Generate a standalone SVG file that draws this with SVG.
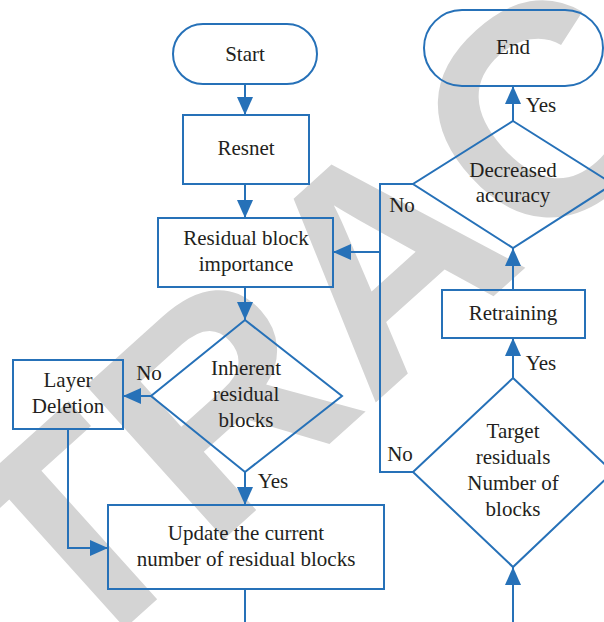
<svg xmlns="http://www.w3.org/2000/svg" width="604" height="622" viewBox="0 0 604 622">
<defs>
<style>
.shape{fill:none;stroke:#2671b8;stroke-width:2}
.conn{fill:none;stroke:#2671b8;stroke-width:2}
.t{font-family:"Liberation Serif","Times New Roman",serif;font-size:21px;fill:#231f20;text-anchor:middle}
.wm{font-family:"Liberation Sans",Arial,sans-serif;font-size:300px;font-weight:bold;fill:#d4d4d4}
</style>
<marker id="ah" markerUnits="userSpaceOnUse" markerWidth="18" markerHeight="16" refX="18" refY="8" orient="auto">
<path d="M0,0 L18,8 L0,16 z" fill="#2671b8"/>
</marker>
</defs>
<rect x="0" y="0" width="604" height="622" fill="#ffffff"/>
<g id="watermark">
<text class="wm" x="73" y="675" transform="rotate(-42 73 675)">TRAC</text>
</g>
<g id="connectors">
<path class="conn" d="M245,84 V115" marker-end="url(#ah)"/>
<path class="conn" d="M245,184 V218" marker-end="url(#ah)"/>
<path class="conn" d="M245,287 V320" marker-end="url(#ah)"/>
<path class="conn" d="M151,396 H123" marker-end="url(#ah)"/>
<path class="conn" d="M245,472 V505" marker-end="url(#ah)"/>
<path class="conn" d="M68,429 V548 H108" marker-end="url(#ah)"/>
<path class="conn" d="M245,589 V622"/>
<path class="conn" d="M513,622 V567" marker-end="url(#ah)"/>
<path class="conn" d="M513,378 V338" marker-end="url(#ah)"/>
<path class="conn" d="M513,290 V248" marker-end="url(#ah)"/>
<path class="conn" d="M513,121 V86" marker-end="url(#ah)"/>
<path class="conn" d="M413,184 H380 V472 H413"/>
<path class="conn" d="M380,252 H333" marker-end="url(#ah)"/>
<text class="t" x="149" y="380">No</text>
<text class="t" x="273" y="488">Yes</text>
<text class="t" x="402" y="212">No</text>
<text class="t" x="400" y="461">No</text>
<text class="t" x="541" y="370">Yes</text>
<text class="t" x="541" y="112">Yes</text>
</g>
<g id="start">
<rect class="shape" x="173" y="24" width="144" height="60" rx="30"/>
<text class="t" x="245" y="61">Start</text>
</g>
<g id="resnet">
<rect class="shape" x="183" y="115" width="126" height="69"/>
<text class="t" x="246" y="155">Resnet</text>
</g>
<g id="importance">
<rect class="shape" x="158" y="218" width="175" height="69"/>
<text class="t" x="246" y="245">Residual block</text>
<text class="t" x="246" y="271">importance</text>
</g>
<g id="inherent">
<polygon class="shape" points="245,320 342,396 245,472 151,396"/>
<text class="t" x="246" y="375">Inherent</text>
<text class="t" x="246" y="401">residual</text>
<text class="t" x="246" y="427">blocks</text>
</g>
<g id="deletion">
<rect class="shape" x="13" y="360" width="110" height="69"/>
<text class="t" x="68" y="387">Layer</text>
<text class="t" x="68" y="413">Deletion</text>
</g>
<g id="update">
<rect class="shape" x="108" y="505" width="276" height="84"/>
<text class="t" x="246" y="540">Update the current</text>
<text class="t" x="246" y="566">number of residual blocks</text>
</g>
<g id="target">
<polygon class="shape" points="513,378 613,472 513,567 413,472"/>
<text class="t" x="513" y="438">Target</text>
<text class="t" x="513" y="464">residuals</text>
<text class="t" x="513" y="490">Number of</text>
<text class="t" x="513" y="516">blocks</text>
</g>
<g id="retraining">
<rect class="shape" x="442" y="290" width="143" height="48"/>
<text class="t" x="513" y="320">Retraining</text>
</g>
<g id="decreased">
<polygon class="shape" points="513,121 613,184 513,248 413,184"/>
<text class="t" x="513" y="177">Decreased</text>
<text class="t" x="513" y="202">accuracy</text>
</g>
<g id="end">
<rect class="shape" x="424" y="10" width="179" height="76" rx="38"/>
<text class="t" x="513" y="54">End</text>
</g>
</svg>
